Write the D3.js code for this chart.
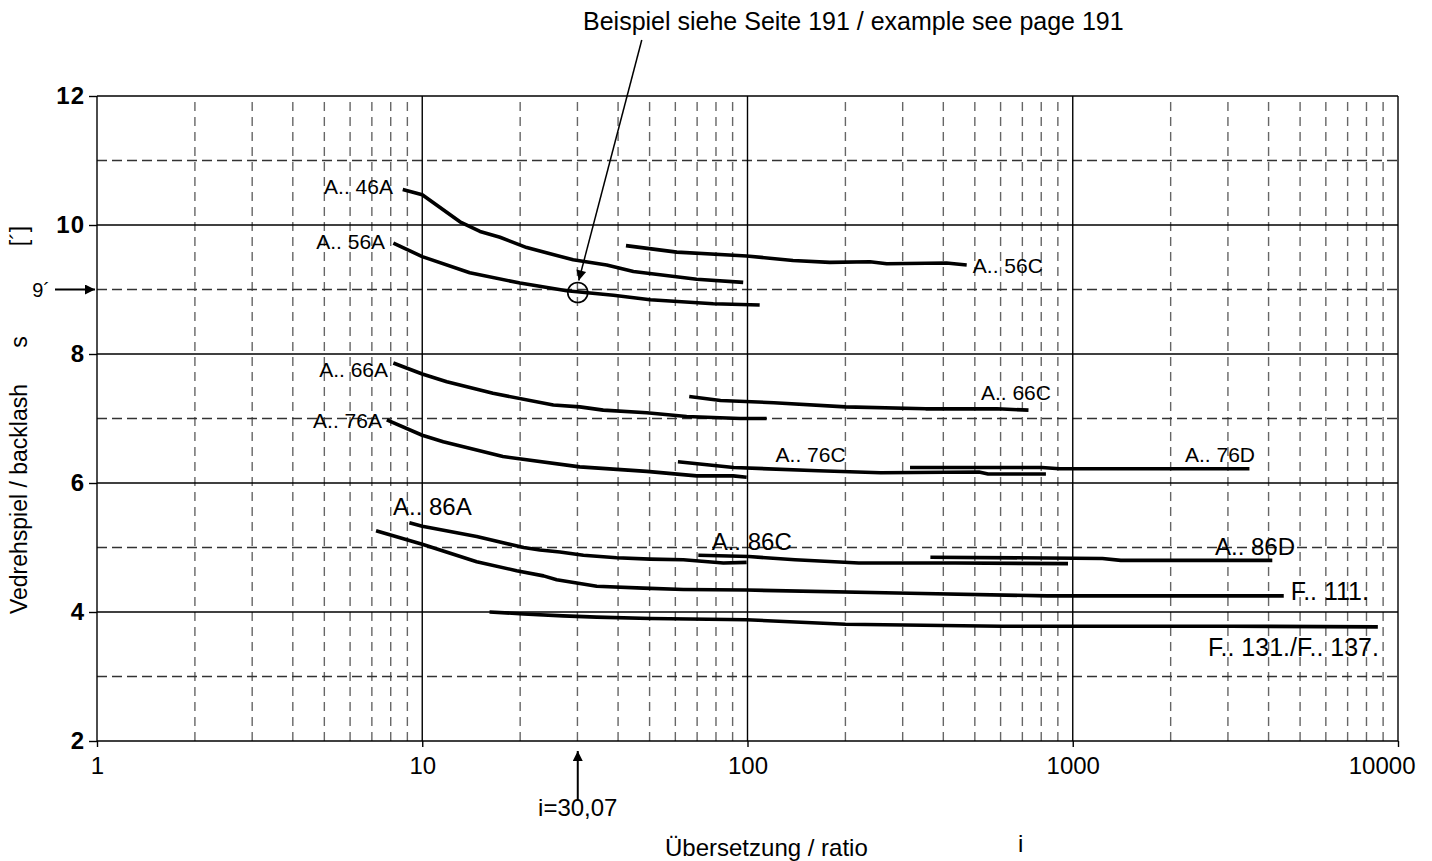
<!DOCTYPE html>
<html>
<head>
<meta charset="utf-8">
<script src="https://cdn.jsdelivr.net/npm/d3@7"></script>
<style>
body { margin: 0; background: #fff; }
svg { font-family: "Liberation Sans", Arial, sans-serif; }
</style>
</head>
<body>
<svg id="chart" width="1432" height="861"></svg>
<script>
// ---- data (ratio i, backlash s in arcmin) ----
var yTicks = [2, 4, 6, 8, 10, 12];
var xTicks = [1, 10, 100, 1000, 10000];
var xTickLabels = ["1", "10", "100", "1000", "10000"];

var a46A = [[8.71,10.55],[10,10.47],[13.06,10.05],[15.05,9.90],[17.34,9.81],[20.95,9.65],[29.1,9.46],[36.9,9.38],[44.6,9.28],[69.8,9.16],[97,9.11]];
var a56A = [[8.15,9.72],[10,9.51],[14.0,9.26],[19.98,9.10],[27.8,8.98],[38.7,8.91],[50.2,8.84],[78.5,8.78],[109,8.76]];
var a56C = [[42.3,9.68],[60.6,9.58],[99.4,9.52],[138,9.45],[179,9.42],[238,9.43],[268,9.40],[409,9.41],[472,9.38]];
var a66A = [[8.15,7.86],[10,7.69],[11.9,7.57],[16.5,7.39],[25.3,7.21],[30.5,7.18],[36.0,7.13],[49.0,7.09],[65.0,7.03],[94.9,7.00],[114.5,7.00]];
var a66C = [[66.2,7.34],[82.6,7.28],[120.5,7.245],[200,7.18],[353,7.15],[585,7.15],[731,7.13]];
var a76A = [[7.78,6.98],[10,6.74],[11.6,6.64],[17.7,6.41],[30.5,6.25],[49.0,6.18],[69.8,6.11],[90.4,6.11],[99.4,6.09]];
var a76C = [[61.1,6.33],[90.7,6.24],[165,6.19],[257,6.16],[515,6.17],[549,6.14],[827,6.14]];
var a76D = [[316,6.24],[803,6.24],[911,6.22],[3493,6.22]];
var a86A = [[9.13,5.385],[10,5.33],[14.7,5.17],[20.5,5.00],[23.0,4.96],[26.5,4.93],[31.3,4.88],[39.6,4.84],[50.2,4.82],[63.5,4.81],[84.3,4.76],[99.4,4.77]];
var a86C = [[70.6,4.88],[101,4.86],[140,4.81],[220,4.76],[436,4.76],[967,4.75]];
var a86D = [[365,4.85],[1234,4.83],[1405,4.80],[4107,4.80]];
var f111 = [[7.21,5.26],[10,5.05],[14.7,4.78],[19.5,4.64],[23.6,4.56],[25.9,4.50],[34.4,4.40],[47.8,4.37],[63.5,4.35],[99.4,4.34],[315,4.29],[835,4.25],[4454,4.25]];
var f131 = [[16.1,4.00],[20.5,3.97],[27.1,3.94],[34.4,3.92],[50.2,3.90],[99.4,3.88],[200,3.81],[603,3.78],[3066,3.78],[8670,3.77]];

var allSeries = [a46A, a56A, a56C, a66A, a66C, a76A, a76C, a76D, a86A, a86C, a86D, f111, f131];

var labelTexts = ["A.. 46A", "A.. 56A", "A.. 56C", "A.. 66A", "A.. 66C", "A.. 76A", "A.. 76C", "A.. 76D",
                  "A.. 86A", "A.. 86C", "A.. 86D", "F.. 111.", "F.. 131./F.. 137."];
// where each label sits, in chart coordinates [ratio, backlash, anchor, font size]
var labelSpots = [[8.13,10.48,"end",21],[7.69,9.63,"end",21],[493,9.26,"start",21],[7.85,7.64,"end",21],
                  [522,7.29,"start",21],[7.52,6.85,"end",21],[122,6.33,"start",21],[2213,6.33,"start",21],
                  [8.13,5.50,"start",24],[77.6,4.96,"start",24],[2737,4.88,"start",24],[4677,4.19,"start",25],
                  [2606,3.32,"start",25]];

var examplePoint = [30.07, 9];

var svg = d3.select("#chart");

var x = d3.scaleLog().domain([1, 10000]).range([97, 1398]);
var y = d3.scaleLinear().domain([2, 12]).range([741, 96]);

// arrow marker
svg.append("defs").append("marker")
    .attr("id", "arrow")
    .attr("viewBox", "0 0 10 10")
    .attr("refX", 10).attr("refY", 5)
    .attr("markerWidth", 14).attr("markerHeight", 10)
    .attr("markerUnits", "userSpaceOnUse")
    .attr("orient", "auto")
    .append("path")
    .attr("d", "M0,0 L10,5 L0,10 Z")
    .attr("fill", "#000");

// ---- grid ----
var minorX = [];
[1, 10, 100, 1000].forEach(function (d) {
    for (var k = 2; k < 10; k++) minorX.push(d * k);
});
var grid = svg.append("g");
grid.selectAll("line.minx").data(minorX).enter().append("line")
    .attr("x1", function (d) { return x(d); })
    .attr("x2", function (d) { return x(d); })
    .attr("y1", y(2)).attr("y2", y(12))
    .attr("stroke", "#666").attr("stroke-width", 1.4)
    .attr("stroke-dasharray", "9,6");
grid.selectAll("line.miny").data([3, 5, 7, 9, 11]).enter().append("line")
    .attr("x1", x(1)).attr("x2", x(10000))
    .attr("y1", function (d) { return y(d); })
    .attr("y2", function (d) { return y(d); })
    .attr("stroke", "#333").attr("stroke-width", 1.3)
    .attr("stroke-dasharray", "10,5");
grid.selectAll("line.majx").data(xTicks).enter().append("line")
    .attr("x1", function (d) { return x(d); })
    .attr("x2", function (d) { return x(d); })
    .attr("y1", y(2)).attr("y2", y(12))
    .attr("stroke", "#000").attr("stroke-width", 1.4);
grid.selectAll("line.majy").data(yTicks).enter().append("line")
    .attr("x1", x(1)).attr("x2", x(10000))
    .attr("y1", function (d) { return y(d); })
    .attr("y2", function (d) { return y(d); })
    .attr("stroke", "#000").attr("stroke-width", 1.4);

// ---- axes ----
var yAxis = svg.append("g")
    .attr("transform", "translate(" + x(1) + ",0)")
    .call(d3.axisLeft(y).tickValues(yTicks).tickSize(8).tickPadding(4));
yAxis.select(".domain").remove();
yAxis.selectAll("text").attr("font-size", 24).attr("font-weight", "bold")
    .attr("letter-spacing", 1).attr("font-family", "Liberation Sans, Arial, sans-serif");
yAxis.selectAll("line").attr("stroke-width", 1.4);

var xAxis = svg.append("g")
    .attr("transform", "translate(0," + y(2) + ")")
    .call(d3.axisBottom(x).tickValues(xTicks).tickSize(6).tickPadding(10)
        .tickFormat(function (d, i) { return xTickLabels[i]; }));
xAxis.select(".domain").remove();
xAxis.selectAll("text").attr("font-size", 24).attr("font-family", "Liberation Sans, Arial, sans-serif");
xAxis.selectAll("line").attr("stroke-width", 1.4);
// the last label is pulled in so it stays on the page
xAxis.selectAll("text").filter(function (d) { return d === 10000; })
    .attr("text-anchor", "end").attr("dx", 17);

// ---- curves ----
var line = d3.line()
    .x(function (d) { return x(d[0]); })
    .y(function (d) { return y(d[1]); });

svg.append("g").selectAll("path").data(allSeries).enter().append("path")
    .attr("d", line)
    .attr("fill", "none")
    .attr("stroke", "#000")
    .attr("stroke-width", 3.6)
    .attr("stroke-linejoin", "round");

svg.append("g").selectAll("text").data(labelTexts).enter().append("text")
    .attr("x", function (d, i) { return x(labelSpots[i][0]); })
    .attr("y", function (d, i) { return y(labelSpots[i][1]); })
    .attr("text-anchor", function (d, i) { return labelSpots[i][2]; })
    .attr("font-size", function (d, i) { return labelSpots[i][3]; })
    .text(function (d) { return d; });

// ---- example annotation ----
var ex = x(examplePoint[0]), ey = y(examplePoint[1]);
svg.append("circle")
    .attr("cx", ex).attr("cy", ey + 3).attr("r", 10)
    .attr("fill", "none").attr("stroke", "#000").attr("stroke-width", 1.6);
svg.append("line")
    .attr("x1", ex + 64).attr("y1", 40)
    .attr("x2", ex + 1).attr("y2", ey - 9)
    .attr("stroke", "#000").attr("stroke-width", 1.5)
    .attr("marker-end", "url(#arrow)");
svg.append("text")
    .attr("x", 583).attr("y", 30)
    .attr("font-size", 25)
    .text("Beispiel siehe Seite 191 / example see page 191");

// 9' arrow on the y axis
svg.append("line")
    .attr("x1", 55).attr("y1", ey).attr("x2", x(1) - 2).attr("y2", ey)
    .attr("stroke", "#000").attr("stroke-width", 2)
    .attr("marker-end", "url(#arrow)");
svg.append("text")
    .attr("x", 50).attr("y", ey + 7).attr("text-anchor", "end")
    .attr("font-size", 20).attr("font-weight", 300)
    .text("9´");

// i=30,07 arrow below the x axis
svg.append("line")
    .attr("x1", ex).attr("y1", 800).attr("x2", ex).attr("y2", y(2) + 10)
    .attr("stroke", "#000").attr("stroke-width", 2)
    .attr("marker-end", "url(#arrow)");
svg.append("text")
    .attr("x", ex).attr("y", 816).attr("text-anchor", "middle")
    .attr("font-size", 24)
    .text("i=30,07");

// ---- axis titles ----
svg.append("text")
    .attr("transform", "translate(27,499) rotate(-90)")
    .attr("text-anchor", "middle")
    .attr("font-size", 23)
    .text("Vedrehspiel / backlash");
svg.append("text")
    .attr("transform", "translate(27,342) rotate(-90)")
    .attr("text-anchor", "middle")
    .attr("font-size", 23)
    .text("s");
svg.append("text")
    .attr("transform", "translate(27,236) rotate(-90)")
    .attr("text-anchor", "middle")
    .attr("font-size", 23)
    .text("[´]");

svg.append("text")
    .attr("x", 665).attr("y", 856)
    .attr("font-size", 24)
    .text("Übersetzung / ratio");
svg.append("text")
    .attr("x", 1018).attr("y", 852)
    .attr("font-size", 24)
    .text("i");
</script>
</body>
</html>
